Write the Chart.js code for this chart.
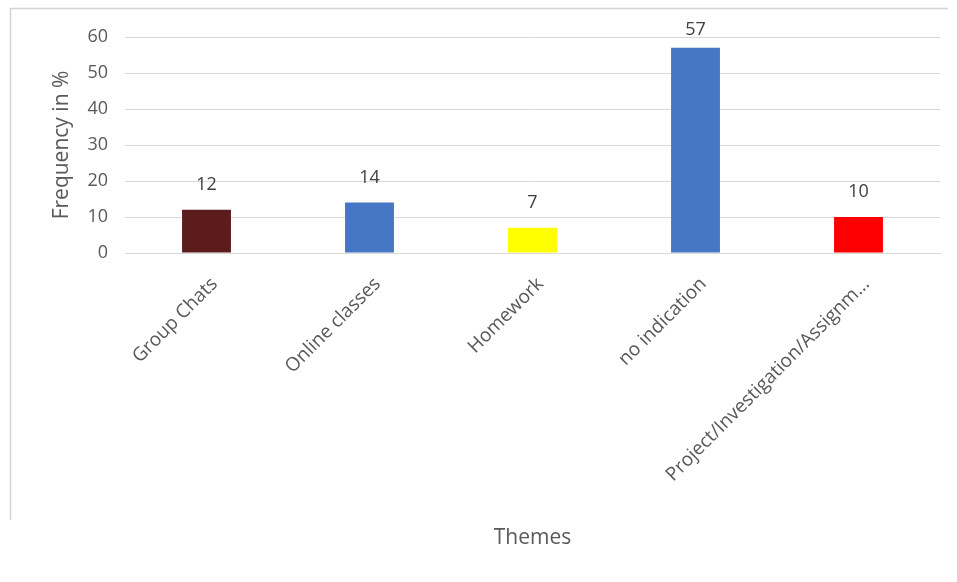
<!DOCTYPE html>
<html>
<head>
<meta charset="utf-8">
<script src="https://cdn.jsdelivr.net/npm/chart.js@4"></script>
<style>
  html, body { margin: 0; padding: 0; background: #fff; }
  #wrap { width: 957px; height: 582px; position: relative; }
</style>
</head>
<body>
<div id="wrap"><canvas id="themesChart"></canvas></div>
<script>
  // Dữ liệu biểu đồ
  const themes = ['Group Chats', 'Online classes', 'Homework', 'no indication', 'Project/Investigation/Assignm...'];
  const frequency = [12, 14, 7, 57, 10];
  const barColors = ['#5c1c1c', '#4677c4', '#ffff00', '#4677c4', '#ff0000'];
  const yTicks = [0, 10, 20, 30, 40, 50, 60];

  const textColor = '#595959';
  const fontFamily = "'Open Sans', 'Noto Sans', sans-serif";

  // Khung viền nhạt quanh biểu đồ
  const framePlugin = {
    id: 'frame',
    beforeDraw(chart) {
      const c = chart.ctx;
      c.save();
      c.strokeStyle = '#d4d4d4';
      c.lineWidth = 1.5;
      c.beginPath();
      c.moveTo(10.5, 520);
      c.lineTo(10.5, 8.5);
      c.lineTo(948, 8.5);
      c.stroke();
      c.restore();
    }
  };

  // Ghi giá trị phía trên mỗi cột
  const valueLabels = {
    id: 'valueLabels',
    afterDatasetsDraw(chart) {
      const c = chart.ctx;
      const meta = chart.getDatasetMeta(0);
      c.save();
      c.font = '18px ' + fontFamily;
      c.fillStyle = '#404040';
      c.textAlign = 'center';
      c.textBaseline = 'bottom';
      meta.data.forEach((bar, i) => {
        const y = Math.max(bar.y - 16, 39);
        c.fillText(frequency[i], bar.x, y);
      });
      c.restore();
    }
  };

  const ctx = document.getElementById('themesChart').getContext('2d');
  const themesChart = new Chart(ctx, {
    type: 'bar',
    data: {
      labels: themes,
      datasets: [{
        data: frequency,
        backgroundColor: barColors,
        barPercentage: 0.6,
        categoryPercentage: 0.5
      }]
    },
    options: {
      responsive: true,
      maintainAspectRatio: false,
      animation: false,
      layout: { padding: { left: 49, right: 17, top: 37, bottom: 31 } },
      plugins: {
        legend: { display: false },
        tooltip: { enabled: false }
      },
      scales: {
        x: {
          grid: { display: false, drawTicks: false },
          border: { color: '#d9d9d9' },
          ticks: {
            color: textColor,
            font: { family: fontFamily, size: 19 },
            minRotation: 45,
            maxRotation: 45,
            labelOffset: 8,
            padding: 20
          },
          title: {
            display: true,
            text: 'Themes',
            color: textColor,
            font: { family: fontFamily, size: 21 },
            padding: { top: 0, bottom: 0 }
          },
          afterFit(scale) { scale.height = 582 - 31 - 253; }
        },
        y: {
          min: 0,
          max: 60,
          afterBuildTicks(scale) { scale.ticks = yTicks.map(v => ({ value: v })); },
          grid: { color: '#d9d9d9', drawTicks: false },
          border: { display: false },
          ticks: {
            color: textColor,
            font: { family: fontFamily, size: 18 },
            padding: 17
          },
          title: {
            display: true,
            text: 'Frequency in %',
            color: textColor,
            font: { family: fontFamily, size: 21 },
            padding: { top: 0, bottom: 4 }
          },
          afterFit(scale) { scale.width = 125 - 49; }
        }
      }
    },
    plugins: [framePlugin, valueLabels]
  });
</script>
</body>
</html>
